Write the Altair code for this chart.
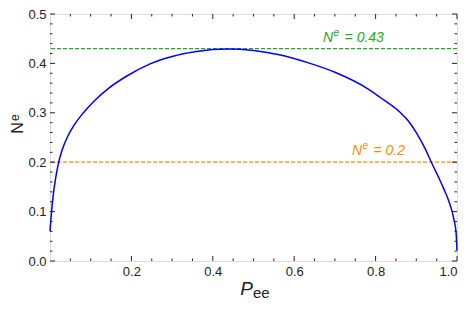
import altair as alt
import pandas as pd

# curve
P = [0.0, 0.002, 0.005, 0.0085, 0.013, 0.02, 0.03, 0.044, 0.06, 0.08, 0.11, 0.143, 0.19,
     0.246, 0.30, 0.36, 0.434, 0.50, 0.56, 0.639, 0.70, 0.778, 0.82, 0.86, 0.88, 0.90,
     0.922, 0.937, 0.955, 0.967, 0.98, 0.992, 0.998, 1.0]
N = [0.06, 0.082, 0.110, 0.137, 0.163, 0.195, 0.225, 0.253, 0.276, 0.298, 0.325, 0.349, 0.375,
     0.399, 0.414, 0.424, 0.429, 0.426, 0.418, 0.400, 0.382, 0.350, 0.326, 0.301, 0.284, 0.260,
     0.227, 0.200, 0.169, 0.147, 0.121, 0.086, 0.055, 0.021]

h_levels = [0.43, 0.2]
h_colors = ["#22aa22", "#ff8c00"]
h_values = ["= 0.43", "= 0.2"]
label_x = [0.671, 0.742]

x_major = [0.2, 0.4, 0.6, 0.8, 1.0]
x_minor = [0.05, 0.1, 0.15, 0.25, 0.3, 0.35, 0.45, 0.5, 0.55, 0.65, 0.7, 0.75, 0.85, 0.9, 0.95]
y_major = [0.0, 0.1, 0.2, 0.3, 0.4, 0.5]
y_minor = [0.02, 0.04, 0.06, 0.08, 0.12, 0.14, 0.16, 0.18, 0.22, 0.24, 0.26, 0.28,
           0.32, 0.34, 0.36, 0.38, 0.42, 0.44, 0.46, 0.48]

W, H = 407, 247
FONT = "Liberation Sans"
INK = "#222222"

xs = alt.Scale(domain=[0, 1], nice=False, zero=False)
ys = alt.Scale(domain=[0, 0.5], nice=False, zero=False)

curve_df = pd.DataFrame({"P": P, "N": N})
curve = alt.Chart(curve_df).mark_line(color="#0000ff", strokeWidth=1.5, interpolate="monotone").encode(
    x=alt.X("P:Q", scale=xs, axis=alt.Axis(values=x_major, format=".1f", title="", grid=False,
                                           ticks=False, domain=False, labelFont=FONT, labelFontSize=13,
                                           labelColor=INK, labelPadding=4)),
    y=alt.Y("N:Q", scale=ys, axis=alt.Axis(values=y_major, format=".1f", title="", grid=False,
                                           ticks=False, domain=False, labelFont=FONT, labelFontSize=13,
                                           labelColor=INK, labelPadding=4)),
)

hdf = pd.DataFrame({"y": h_levels, "c": h_colors, "v": h_values, "lx": label_x,
                    "n": ["N", "N"], "e": ["e", "e"]})
hlines = alt.Chart(hdf).mark_rule(strokeDash=[4, 2], strokeWidth=1.3).encode(
    y=alt.Y("y:Q", scale=ys),
    color=alt.Color("c:N", scale=None),
)

def ann(field, dx, dy, size):
    return alt.Chart(hdf).mark_text(font=FONT, fontSize=size, fontStyle="italic", align="left",
                                    baseline="alphabetic", dx=dx, dy=dy).encode(
        x=alt.X("lx:Q", scale=xs),
        y=alt.Y("y:Q", scale=ys),
        text=f"{field}:N",
        color=alt.Color("c:N", scale=None),
    )

ann_layers = [ann("n", 0, -7, 14), ann("e", 10.5, -13, 10), ann("v", 21.5, -7, 14)]

# axis titles with real super/subscripts
tdf = pd.DataFrame({"k": [0]})
xtitle_p = alt.Chart(tdf).mark_text(font=FONT, fontSize=19, fontStyle="italic", align="center",
                                    baseline="alphabetic", color=INK, text="P").encode(
    x=alt.value(196.5), y=alt.value(H + 34))
xtitle_ee = alt.Chart(tdf).mark_text(font=FONT, fontSize=15, align="left",
                                     baseline="alphabetic", color=INK, text="ee").encode(
    x=alt.value(203), y=alt.value(H + 37))
ytitle_n = alt.Chart(tdf).mark_text(font=FONT, fontSize=16, angle=270, align="center",
                                    baseline="alphabetic", color=INK, text="N").encode(
    x=alt.value(-27), y=alt.value(114))
ytitle_e = alt.Chart(tdf).mark_text(font=FONT, fontSize=12, angle=270, align="left",
                                    baseline="alphabetic", color=INK, text="e").encode(
    x=alt.value(-31), y=alt.value(107))

def xticks(vals, size):
    df = pd.DataFrame({"v": vals})
    bot = alt.Chart(df).mark_rule(color=INK, strokeWidth=1).encode(
        x=alt.X("v:Q", scale=xs), y=alt.value(H), y2=alt.value(H - size))
    top = alt.Chart(df).mark_rule(color=INK, strokeWidth=1).encode(
        x=alt.X("v:Q", scale=xs), y=alt.value(0), y2=alt.value(size))
    return [bot, top]

def yticks(vals, size):
    df = pd.DataFrame({"v": vals})
    left = alt.Chart(df).mark_rule(color=INK, strokeWidth=1).encode(
        y=alt.Y("v:Q", scale=ys), x=alt.value(0), x2=alt.value(size))
    right = alt.Chart(df).mark_rule(color=INK, strokeWidth=1).encode(
        y=alt.Y("v:Q", scale=ys), x=alt.value(W), x2=alt.value(W - size))
    return [left, right]

layers = ([hlines, curve] + ann_layers + [xtitle_p, xtitle_ee, ytitle_n, ytitle_e]
          + xticks(x_major, 5) + xticks(x_minor, 2.5) + yticks(y_major, 5) + yticks(y_minor, 2.5))

chart = alt.layer(*layers).properties(
    width=W, height=H,
    autosize=alt.AutoSizeParams(type="none"),
    padding={"left": 42, "top": 6, "right": 3, "bottom": 48},
).configure_view(stroke=INK, strokeWidth=1.4).configure(background="white")

chart.save("out.html", embed_options={"renderer": "svg", "actions": False})
